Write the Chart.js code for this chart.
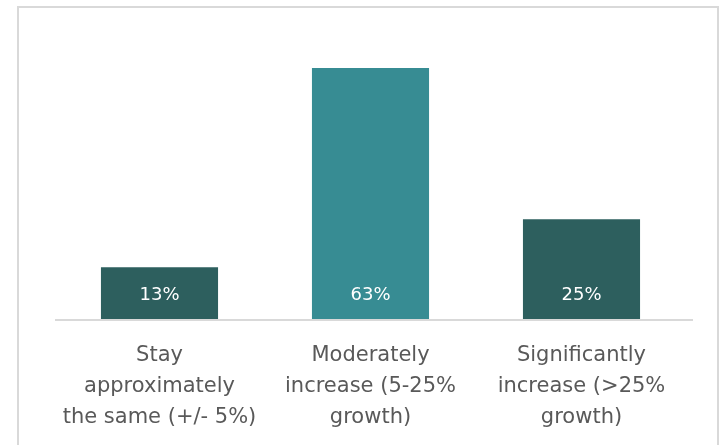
<!DOCTYPE html>
<html>
<head>
<meta charset="utf-8">
<script src="https://cdn.jsdelivr.net/npm/chart.js@4"></script>
<style>
  html, body { margin: 0; padding: 0; background: #fff; }
  #wrap { position: relative; width: 721px; height: 445px; overflow: hidden; }
  #frame { position: absolute; left: 17px; top: 6px; width: 698px; height: 460px;
           border: 2px solid #d9d9d9; border-bottom: none; }
  canvas { position: absolute; left: 0; top: 0; }
</style>
</head>
<body>
<div id="wrap">
  <div id="frame"></div>
  <canvas id="grafica" width="721" height="445"></canvas>
</div>
<script>
var categorias = [
    ["Stay", "approximately", "the same (+/- 5%)"],
    ["Moderately", "increase (5-25%", "growth)"],
    ["Significantly", "increase (>25%", "growth)"]
];
var valores = [13, 63, 25];
var colores = ["#2d5f5e", "#378c93", "#2d5f5e"];

// etiquetas blancas cerca de la base de cada barra
var etiquetas = {
    id: "etiquetas",
    afterDatasetsDraw: function(chart) {
        var ctx = chart.ctx;
        var meta = chart.getDatasetMeta(0);
        ctx.save();
        ctx.fillStyle = "#ffffff";
        ctx.font = "18px 'DejaVu Sans'";
        ctx.textAlign = "center";
        ctx.textBaseline = "middle";
        meta.data.forEach(function(bar, i) {
            ctx.fillText(valores[i] + "%", bar.x, chart.chartArea.bottom - 24);
        });
        ctx.restore();
    }
};

// linea base gris
var lineaBase = {
    id: "lineaBase",
    afterDatasetsDraw: function(chart) {
        var ctx = chart.ctx;
        var y = chart.chartArea.bottom + 1;
        ctx.save();
        ctx.strokeStyle = "#d9d9d9";
        ctx.lineWidth = 2;
        ctx.beginPath();
        ctx.moveTo(55, y);
        ctx.lineTo(693, y);
        ctx.stroke();
        ctx.restore();
    }
};

var gra = document.getElementById("grafica").getContext("2d");
var chart = new Chart(gra, {
    type: "bar",
    data: {
        labels: categorias,
        datasets: [{
            data: valores,
            backgroundColor: colores,
            categoryPercentage: 1,
            barPercentage: 0.555
        }]
    },
    options: {
        responsive: false,
        animation: false,
        layout: { padding: { left: 54, right: 34, top: 40, bottom: 0 } },
        plugins: { legend: { display: false }, tooltip: { enabled: false } },
        scales: {
            x: {
                grid: { display: false },
                border: { display: false },
                ticks: {
                    color: "#595959",
                    font: { family: "'DejaVu Sans'", size: 21, lineHeight: 1.476 },
                    padding: 13,
                    maxRotation: 0,
                    autoSkip: false
                },
                afterFit: function(scale) { scale.height = 126; }
            },
            y: {
                display: false,
                min: 0,
                max: 70
            }
        }
    },
    plugins: [etiquetas, lineaBase]
});
</script>
</body>
</html>
